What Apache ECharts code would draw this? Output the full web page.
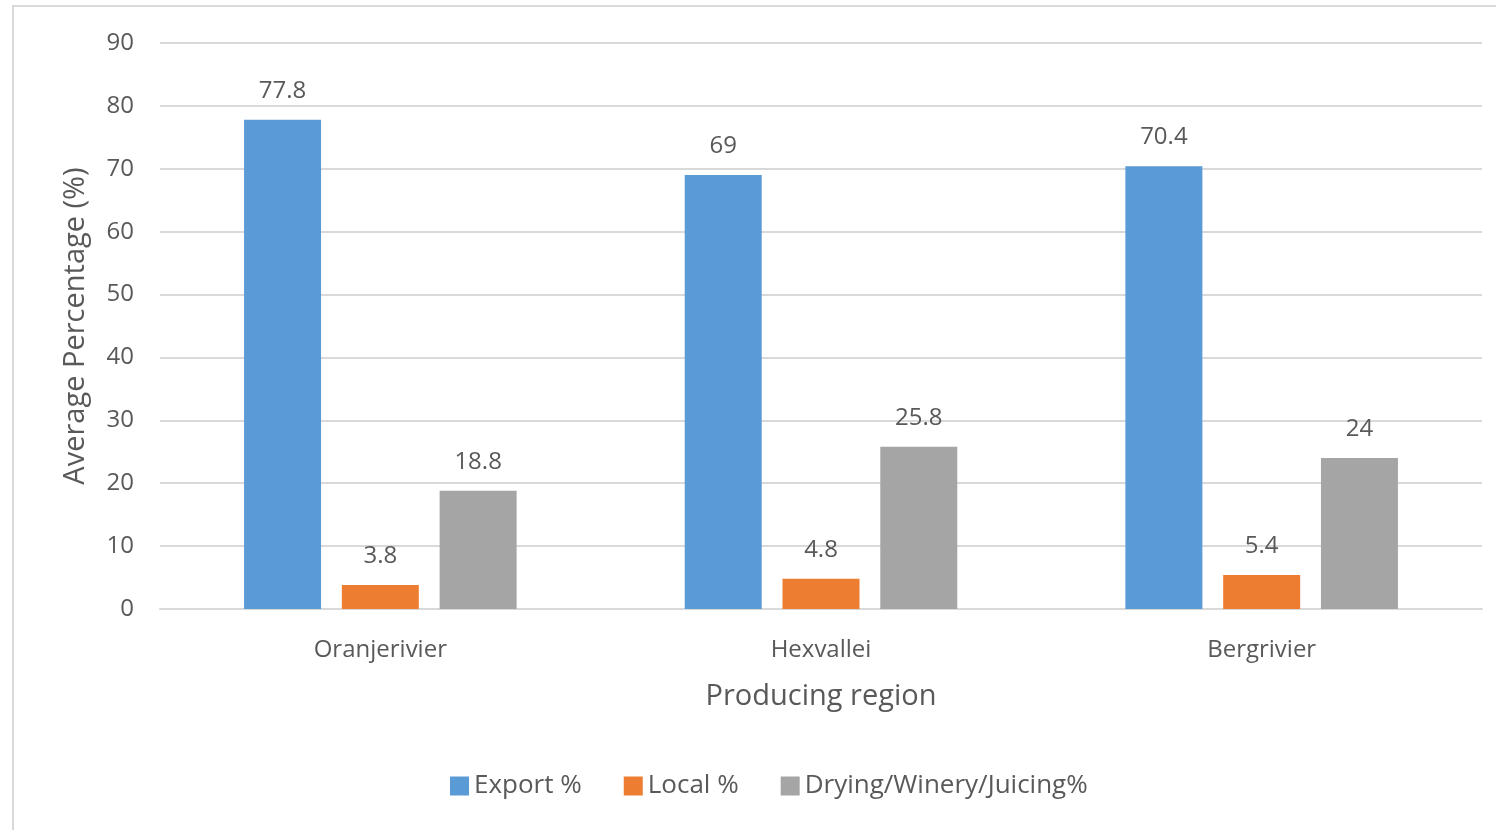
<!DOCTYPE html>
<html>
<head>
<meta charset="utf-8">
<script src="https://cdn.jsdelivr.net/npm/echarts@6/dist/echarts.min.js"></script>
<style>
  html, body { margin: 0; padding: 0; background: #fff; }
  #frame { position: absolute; left: 12px; top: 5px; width: 1600px; height: 900px;
           border-left: 2px solid #d9d9d9; border-top: 2px solid #d9d9d9; }
  #chart { position: absolute; left: 0; top: 0; width: 1496px; height: 830px; }
</style>
</head>
<body>
<div id="frame"></div>
<div id="chart"></div>
<script>
  // data
  const regions = ['Oranjerivier', 'Hexvallei', 'Bergrivier'];
  const exportPct = [77.8, 69, 70.4];
  const localPct = [3.8, 4.8, 5.4];
  const dryingPct = [18.8, 25.8, 24];
  const seriesNames = ['Export %', 'Local %', 'Drying/Winery/Juicing%'];

  const txt = '#595959';
  const font = 'Open Sans';

  function barSeries(name, values, color) {
    return {
      name: name,
      type: 'bar',
      data: values,
      barWidth: 77,
      barGap: '27%',
      itemStyle: { color: color },
      label: {
        show: true,
        position: 'top',
        distance: 17,
        color: txt,
        fontFamily: font,
        fontSize: 24
      }
    };
  }

  var myChart = echarts.init(document.getElementById('chart'));
  var option = {
    animation: false,
    textStyle: { fontFamily: font },
    grid: { left: 160, right: 14, top: 43, bottom: 221 },
    legend: {
      bottom: 26,
      left: 445,
      itemWidth: 19,
      itemHeight: 19,
      itemGap: 42,
      itemStyle: { borderWidth: 0 },
      icon: 'rect',
      textStyle: { color: txt, fontSize: 26, fontFamily: font },
      data: seriesNames
    },
    xAxis: {
      type: 'category',
      data: regions,
      axisTick: { show: false },
      axisLine: { lineStyle: { color: '#d9d9d9', width: 2 } },
      axisLabel: { color: txt, fontSize: 24, margin: 29, fontFamily: font },
      name: 'Producing region',
      nameLocation: 'middle',
      nameGap: 73,
      nameTextStyle: { color: txt, fontSize: 29, fontFamily: font }
    },
    yAxis: {
      type: 'value',
      min: 0,
      max: 90,
      interval: 10,
      axisLine: { show: false },
      axisTick: { show: false },
      splitLine: { lineStyle: { color: '#d9d9d9', width: 2 } },
      axisLabel: { color: txt, fontSize: 24, margin: 26, fontFamily: font },
      name: 'Average Percentage (%)',
      nameLocation: 'middle',
      nameGap: 70,
      nameTextStyle: { color: txt, fontSize: 29, fontFamily: font }
    },
    series: [
      barSeries(seriesNames[0], exportPct, '#5b9bd5'),
      barSeries(seriesNames[1], localPct, '#ed7d31'),
      barSeries(seriesNames[2], dryingPct, '#a5a5a5')
    ]
  };
  option && myChart.setOption(option);
</script>
</body>
</html>
